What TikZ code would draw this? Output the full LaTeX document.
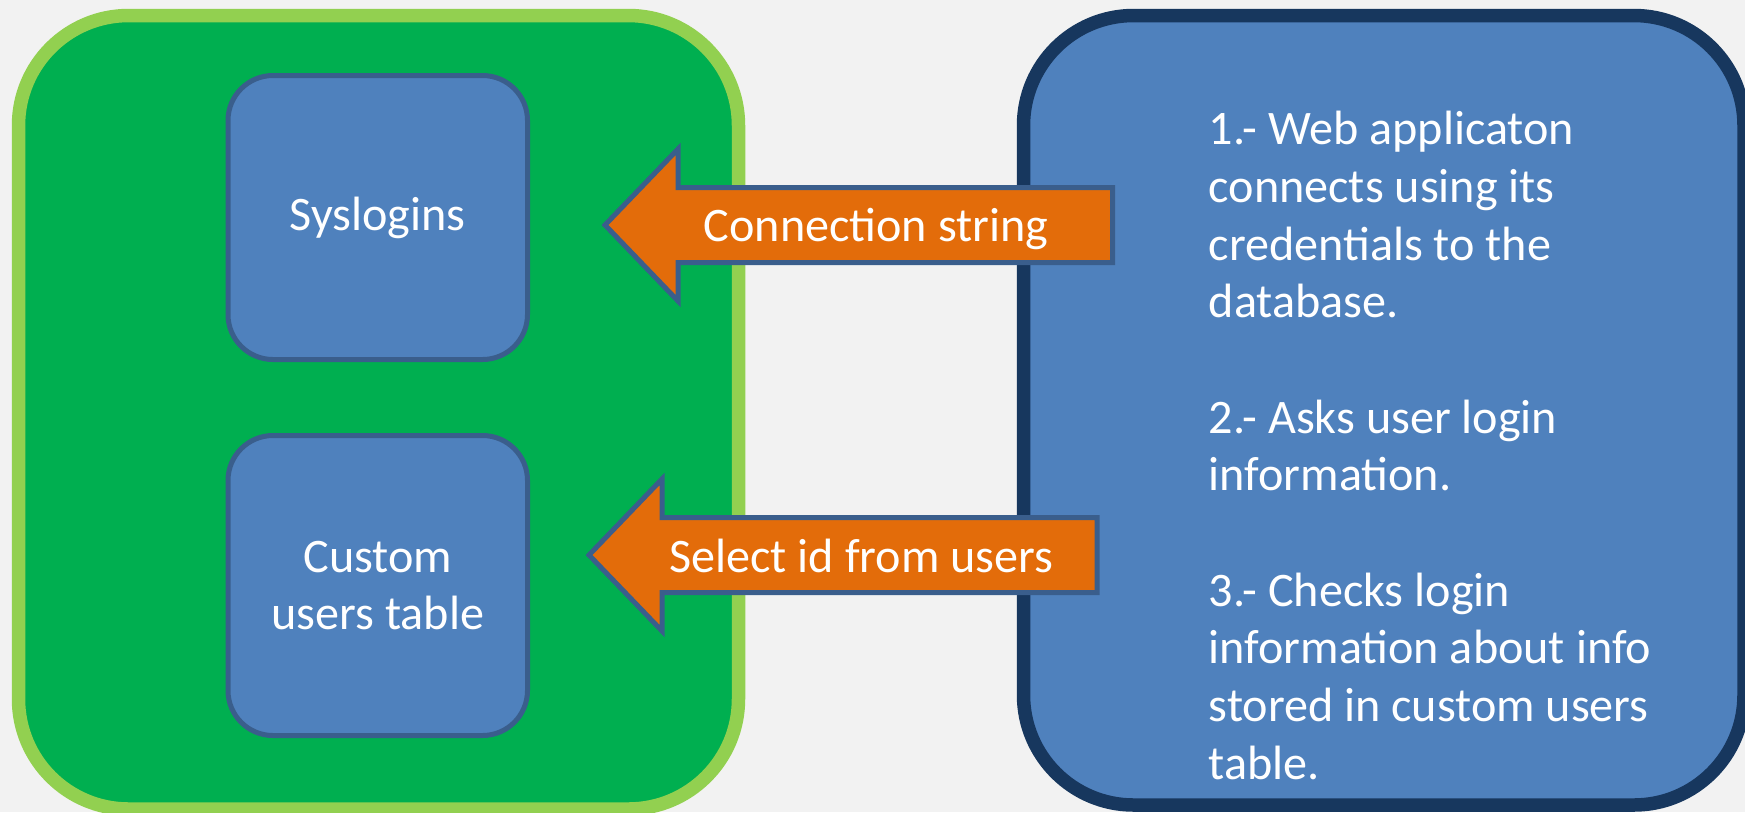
\documentclass[tikz,border=0pt]{standalone}
\usepackage{fontspec}
\setmainfont{Carlito}
\usetikzlibrary{positioning,calc}

\definecolor{bggrey}{HTML}{F2F2F2}
\definecolor{dbgreen}{HTML}{00AF50}
\definecolor{dbrim}{HTML}{92D050}
\definecolor{boxblue}{HTML}{4F81BD}
\definecolor{boxrim}{HTML}{3A5E8C}
\definecolor{apprim}{HTML}{17375E}
\definecolor{arroworange}{HTML}{E36C0A}

\tikzset{
  panel/.style={draw, line width=1.35mm, rounded corners=11mm, outer sep=0pt},
  tablebox/.style={draw=boxrim, fill=boxblue, line width=0.5mm, rounded corners=4.5mm,
    minimum width=29.95mm, outer sep=0pt, text=white, align=center},
  blockarrow/.style={draw=boxrim, fill=arroworange, line width=0.5mm},
  arrowlabel/.style={text=white, anchor=base, inner sep=0pt}
}

% left pointing block arrow from tail (#2) to tip (#1)
\newcommand{\leftblock}[2]{%
  \draw[blockarrow] ($(#2)+(0,-37.5)$) -- ($(#1)+(73,-37.5)$) -- ($(#1)+(73,-76)$)
    -- (#1) -- ($(#1)+(73,76)$) -- ($(#1)+(73,37.5)$) -- ($(#2)+(0,37.5)$) -- cycle;}

\begin{document}
\begin{tikzpicture}[x=0.1mm, y=-0.1mm, font=\fontsize{13.7pt}{16.4pt}\selectfont]
        \fill[bggrey] (0,0) rectangle (1745,812);
        \useasboundingbox (0,0) rectangle (1745,812);

        \node[panel, draw=dbrim, fill=dbgreen, minimum width=72mm, minimum height=79.35mm] (db) at (378.5,412.25) {};
        \node[panel, draw=apprim, fill=boxblue, minimum width=72.05mm, minimum height=78.95mm] (app) at (1383.75,410.25) {};

        \node[tablebox, minimum height=28.4mm] (syslogins) at (377.75,217.5) {Syslogins};
        \node[tablebox, minimum height=30mm, below=7.6mm of syslogins] (users) {Custom\\users table};

        \coordinate (conntip) at (605,225);
        \coordinate (conntail) at (1112.5,225);
        \coordinate (selecttip) at (589,555);
        \coordinate (selecttail) at (1097,555);
        \leftblock{conntip}{conntail}
        \leftblock{selecttip}{selecttail}

        \node[arrowlabel] (connlbl) at (876,241) {Connection string};
        \node[arrowlabel] (selectlbl) at (861.5,572) {Select id from users};

        % base of a multi-line node is its last line
        \node[anchor=base west, inner sep=0pt, text=white, align=left] (steps) at (1208,779)
          {1.- Web applicaton\\connects using its\\credentials to the\\database.\\[16.4pt]
           2.- Asks user login\\information.\\[16.4pt]
           3.- Checks login\\information about info\\stored in custom users\\table.};
\end{tikzpicture}
\end{document}
